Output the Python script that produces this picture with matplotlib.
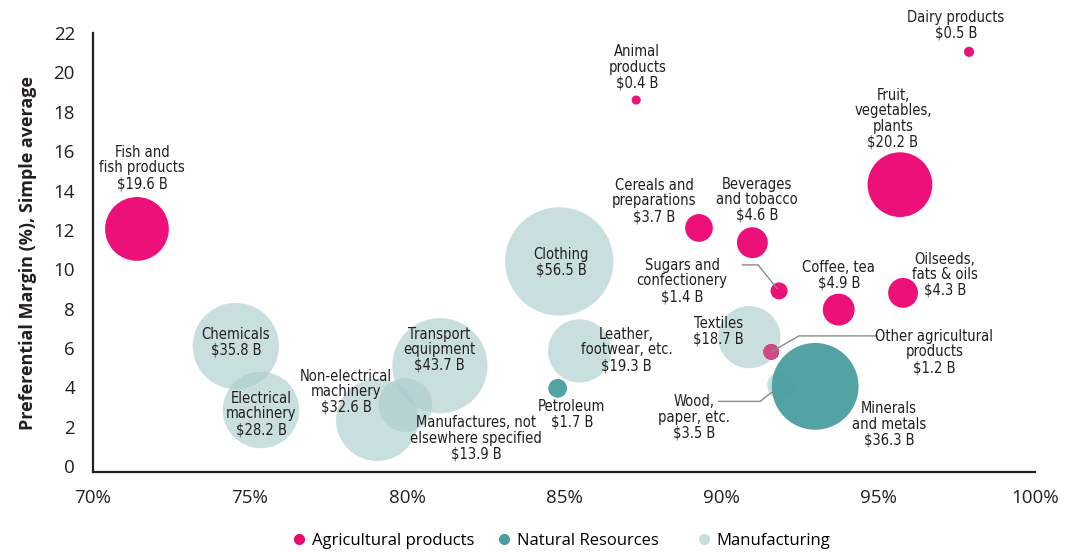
import matplotlib.pyplot as plt
import numpy as np

# data
agri_names = ["Fish and\nfish products", "Animal\nproducts", "Dairy products",
              "Fruit,\nvegetables,\nplants", "Cereals and\npreparations",
              "Beverages\nand tobacco", "Sugars and\nconfectionery", "Coffee, tea",
              "Oilseeds,\nfats & oils", "Other agricultural\nproducts"]
agri_x = [71.4, 87.3, 97.9, 95.7, 89.3, 91.0, 91.85, 93.75, 95.8, 91.6]
agri_y = [12.05, 18.6, 21.05, 14.3, 12.1, 11.35, 8.9, 7.95, 8.8, 5.8]
agri_val = [19.6, 0.4, 0.5, 20.2, 3.7, 4.6, 1.4, 4.9, 4.3, 1.2]

nat_names = ["Petroleum", "Minerals\nand metals"]
nat_x = [84.8, 93.0]
nat_y = [3.95, 4.05]
nat_val = [1.7, 36.3]

man_names = ["Chemicals", "Electrical\nmachinery", "Non-electrical\nmachinery",
             "Transport\nequipment", "Manufactures, not\nelsewhere specified",
             "Clothing", "Leather,\nfootwear, etc.", "Textiles", "Wood,\npaper, etc."]
man_x = [74.55, 75.35, 79.05, 81.05, 79.95, 84.85, 85.5, 90.9, 91.9]
man_y = [6.1, 2.85, 2.35, 5.1, 3.1, 10.4, 5.85, 6.55, 4.1]
man_val = [35.8, 28.2, 32.6, 43.7, 13.9, 56.5, 19.3, 18.7, 3.5]

groups = ["Agricultural products", "Natural Resources", "Manufacturing"]

# label offsets from bubble centre, in pixels (layout only)
agri_off = [(5, 61), (1, 33), (-13, 27), (-7, 66), (-45, 27), (5, 43),
            (-97, 10), (0, 34), (42, 18), (163, 0)]
nat_off = [(14, -26), (74, -38)]
man_off = [(0, 4), (0, -4), (-31, 28), (-1, 16), (71, -33), (2, -1),
           (47, 1), (-31, 6), (-87, -32)]

PINK = "#ec0874"
TEAL = "#4a9ea0"
LIGHT = "#a9cccc"
DPI = 100


def bubble_size(vals):
    # area proportional to trade value
    r_px = 7.2 * np.sqrt(np.array(vals))
    return (2 * r_px * 72 / DPI) ** 2


plt.rcParams['font.family'] = ['DejaVu Sans']
fig = plt.figure(figsize=(10.65, 5.52), dpi=DPI)
ax = fig.add_axes([0.0873, 0.145, 0.8845, 0.795])

ax.scatter(man_x, man_y, s=bubble_size(man_val), color=LIGHT, alpha=0.62,
           edgecolors='none', zorder=2)
ax.scatter(nat_x, nat_y, s=bubble_size(nat_val), color=TEAL, alpha=0.95,
           edgecolors='none', zorder=3)
ax.scatter(agri_x, agri_y, s=bubble_size(agri_val), color=PINK, alpha=0.97,
           edgecolors='none', zorder=4)
# other agricultural products looks washed out over Textiles
ax.scatter(agri_x[-1:], agri_y[-1:], s=bubble_size(agri_val[-1:]), color="#cf4a80",
           edgecolors='none', zorder=5)

label_kw = dict(textcoords='offset pixels', ha='center', va='center',
                fontsize=10.5, fontstretch='condensed', color='#231f20',
                linespacing=1.05, zorder=6)


def put_labels(names, xs, ys, vals, offs):
    for n, x, y, v, (dx, dy) in zip(names, xs, ys, vals, offs):
        ax.annotate(f"{n}\n${v} B", (x, y), xytext=(dx, dy), **label_kw)


put_labels(agri_names, agri_x, agri_y, agri_val, agri_off)
put_labels(nat_names, nat_x, nat_y, nat_val, nat_off)
put_labels(man_names, man_x, man_y, man_val, man_off)

# leader lines (start offset in px, angle of the second segment, shrink at bubble)
line_kw = dict(arrowstyle='-', color='#8a8a8a', lw=1.0, shrinkA=0)
leaders = [(agri_x[6], agri_y[6], (-37, 26), -51, 2),
           (man_x[8], man_y[8], (-62, -16), 38, 8),
           (agri_x[9], agri_y[9], (106, 16), 30, 0)]
for x, y, off, angB, shB in leaders:
    ax.annotate("", (x, y), xytext=off, textcoords='offset pixels', zorder=5,
                arrowprops=dict(connectionstyle=f"angle,angleA=0,angleB={angB},rad=0",
                                shrinkB=shB, **line_kw))

ax.set_xlim(70, 100)
ax.set_ylim(-0.3, 22)
ax.set_xticks(np.arange(70, 101, 5))
ax.set_xticklabels([f"{t}%" for t in range(70, 101, 5)])
ax.set_yticks(np.arange(0, 23, 2))
ax.tick_params(length=0, labelsize=13.5, colors='#231f20')
ax.tick_params(axis='x', pad=12)
ax.tick_params(axis='y', pad=13)
for lab in ax.get_xticklabels() + ax.get_yticklabels():
    lab.set_family(['Open Sans', 'DejaVu Sans'])
for s in ['top', 'right']:
    ax.spines[s].set_visible(False)
for s in ['left', 'bottom']:
    ax.spines[s].set_linewidth(1.6)
    ax.spines[s].set_color('#231f20')

ax.set_ylabel("Preferential Margin (%), Simple average", fontsize=13,
              fontweight='bold', family=['Open Sans', 'DejaVu Sans'],
              color='#231f20', labelpad=12)

# legend entries placed one by one (gaps in the original are uneven)
leg_left_px = [291, 496, 696]
for name, c, lx in zip(groups, (PINK, TEAL, "#c8dddd"), leg_left_px):
    h = plt.Line2D([], [], ls='', marker='o', ms=7, color=c)
    fig.legend([h], [name], loc='center left', bbox_to_anchor=(lx / 1065, 0.02),
               frameon=False, borderpad=0, borderaxespad=0,
               prop={'family': ['Open Sans', 'DejaVu Sans'], 'size': 12},
               handletextpad=0.25, handlelength=1.0)

fig.savefig("out.png", dpi=DPI)
